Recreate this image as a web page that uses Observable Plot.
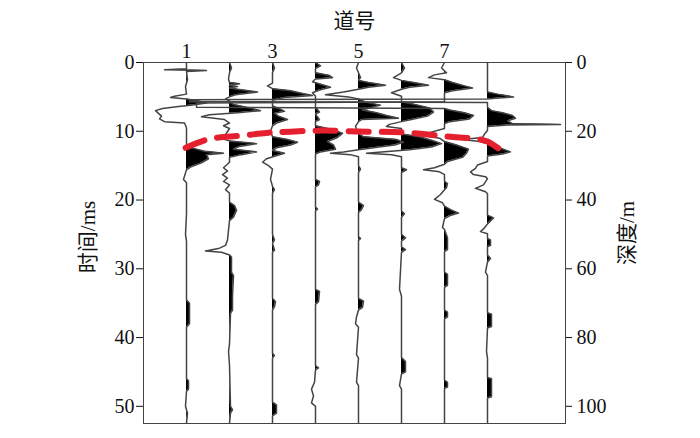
<!DOCTYPE html>
<html><head><meta charset="utf-8">
<script src="https://cdn.jsdelivr.net/npm/d3@7"></script>
<script src="https://cdn.jsdelivr.net/npm/@observablehq/plot@0.6"></script>
<style>body{margin:0;background:#fff}</style>
</head><body><div id="chart"></div>
<script>
// ---- data ----
const traceNumbers = [1, 2, 3, 4, 5, 6, 7, 8];
const topTicks = [1, 3, 5, 7];
const timeTicks = [0, 10, 20, 30, 40, 50];      // ms
const depthTicks = [0, 20, 40, 60, 80, 100];    // m  (depth = 2 x time)
const timeMax = 52.5;
const gain = 43; // amplitude units per trace spacing

// [time ms, amplitude]
const trace1 = [[0,0],[0.9,0],[1.05,-22],[1.15,20],[1.3,0],[2.5,1],[3.5,-1],[4.6,0],[4.9,-12],[5.1,-16],[5.3,0],[5.6,12],[5.9,20],[6.2,4],[6.4,-8],[6.7,-24],[7.0,-31],[7.4,-28],[7.8,-25],[8.2,-27],[8.6,-22],[8.8,-2],[9.5,0],[12.2,0],[12.6,10],[12.9,18],[13.2,37],[13.4,20],[14.0,22],[14.6,15],[15.2,4],[15.6,0],[17,-3],[17.5,0],[22,0],[25,-1],[26,0],[34.5,0],[35,3],[38,3],[38.5,0],[46,0],[46.3,2],[47.5,2],[47.8,0],[50,-1],[51,1],[52.5,0]];
const trace2 = [[0,0],[0.8,2],[1.5,0],[2.4,-1],[2.9,0],[3.1,10],[3.3,0],[3.5,8],[3.7,0],[3.9,8],[4.3,28],[4.7,6],[5.0,0],[5.3,-4],[5.6,0],[6.1,4],[6.6,20],[7.0,31],[7.3,8],[7.6,-20],[7.9,-28],[8.3,-5],[8.8,0],[9.2,-6],[9.6,0],[10.5,-4],[11.0,-10],[11.4,0],[11.8,27],[12.2,10],[12.6,4],[13.0,27],[13.4,12],[13.8,0],[14.5,0],[15.3,-6],[15.8,-2],[16.3,-7],[16.8,-2],[17.3,-6],[17.8,0],[18.5,-4],[19,0],[20.3,0],[20.8,5],[21.5,7],[22.5,4],[23,0],[25.8,-2],[26.6,-4],[27.0,-10],[27.4,-24],[27.6,-8],[28.0,0],[28.3,2],[30.5,2],[31,4],[34,3],[36,3],[36.5,1],[41,0],[42,-1],[44,0],[50,1],[50.5,3],[51,1],[52.5,0]];
const trace3 = [[0,0],[0.8,2],[1.5,0],[3.0,0],[3.4,-5],[3.8,0],[4.1,18],[4.5,30],[4.8,40],[5.1,12],[5.5,0],[6.3,0],[6.8,8],[7.1,12],[7.4,2],[7.8,6],[8.3,15],[8.8,4],[9.2,0],[10,-2],[10.8,0],[11.2,15],[11.6,25],[12.0,18],[12.4,4],[12.8,0],[13.2,12],[13.6,3],[14.0,-6],[14.5,-10],[15.0,-4],[15.5,0],[17,-2],[18,0],[18.5,2],[19,0],[25,0],[25.8,2],[26.3,0],[27.3,2],[27.6,0],[34.3,0],[34.8,3],[35.5,2],[36,0],[42.3,0],[42.6,2],[43,0],[49.4,0],[49.8,4],[51,4],[51.4,0],[52.5,0]];
const trace4 = [[0,0],[0.5,5],[0.9,0],[1.5,0],[1.9,14],[2.2,17],[2.4,0],[2.8,-3],[3.2,6],[3.6,15],[4.0,4],[4.4,-3],[4.9,0],[6.5,0],[7.2,4],[7.5,0],[8.3,4],[8.6,0],[9.2,0],[9.7,15],[10.3,27],[10.9,22],[11.5,12],[12.0,18],[12.6,20],[13.0,5],[13.3,0],[17,0],[17.3,4],[17.8,3],[18.1,0],[21,0],[21.3,2],[21.6,0],[33,0],[33.3,4],[34.8,3],[35.2,0],[44.1,0],[44.4,3],[44.7,0],[46.5,-1],[47.5,-4],[48.5,-2],[49.5,-4],[50,0],[52.5,0]];
const trace5 = [[0,0],[0.8,-2],[1.5,0],[2.2,2],[2.6,0],[2.9,10],[3.3,27],[3.6,10],[3.9,0],[4.3,-15],[4.7,-33],[5.0,-10],[5.3,0],[5.8,8],[6.2,22],[6.6,12],[6.9,4],[7.3,18],[7.7,28],[8.1,40],[8.3,3],[8.6,0],[9.3,-3],[10.3,0],[10.8,5],[11.2,38],[11.6,45],[12.0,36],[12.4,15],[12.7,0],[13.0,-15],[13.2,-28],[13.4,-8],[13.7,0],[15,0],[15.5,2],[16,0],[20.3,0],[20.8,5],[21.4,3],[21.8,0],[25.3,0],[25.6,2],[25.9,0],[34.3,0],[34.7,5],[35.6,4],[36,0],[37,-2],[38,-3],[38.5,0],[42.5,-2],[43,0],[46.5,-2],[47,0],[52.5,0]];
const trace6 = [[0,0],[0.8,3],[1.5,0],[2.2,-8],[2.6,0],[2.9,12],[3.3,27],[3.6,8],[3.9,0],[4.4,-10],[4.9,0],[5.7,0],[6.0,10],[6.6,28],[7.2,32],[7.8,26],[8.3,10],[8.6,0],[9.0,-12],[9.3,-15],[9.6,0],[10.4,0],[10.8,18],[11.3,30],[11.8,40],[12.3,30],[12.7,8],[13.0,-20],[13.2,-35],[13.4,-10],[13.7,0],[15.3,0],[15.6,5],[16,0],[21.6,0],[22,3],[22.5,0],[25,0],[25.5,4],[26,0],[26.8,0],[27.2,4],[27.6,0],[33,-2],[34,0],[42.9,0],[43.5,4],[45,4],[45.3,0],[47,-2],[47.5,0],[52.5,0]];
const trace7 = [[0,0],[0.8,-3],[1.5,2],[1.8,-10],[2.2,-16],[2.5,0],[2.9,8],[3.4,20],[3.7,28],[4.1,8],[4.4,0],[5.7,0],[5.9,-248],[6.5,-248],[6.7,0],[6.9,5],[7.3,20],[7.7,29],[8.2,25],[8.6,5],[8.9,0],[9.6,0],[10.2,-15],[10.6,-21],[11.0,-5],[11.5,0],[12.0,12],[12.6,24],[13.2,22],[13.8,18],[14.4,3],[14.8,0],[15.3,-10],[15.6,-21],[15.9,-5],[16.3,0],[17.3,0],[17.6,3],[18.2,2],[18.5,0],[19.2,-4],[19.9,-10],[20.4,-2],[20.9,0],[21.4,6],[21.9,14],[22.3,5],[22.7,0],[24,-2],[24.3,0],[25.5,3],[27.2,3],[27.5,0],[30.5,0],[30.8,3],[32.4,3],[32.7,0],[36,0],[36.3,3],[37,3],[37.3,0],[46.2,0],[46.5,3],[47.2,3],[47.4,0],[52.5,0]];
const trace8 = [[0,0],[4.3,0],[4.6,10],[5.0,26],[5.2,8],[5.3,0],[5.4,-298],[5.7,-298],[5.8,0],[6.5,0],[7.0,4],[7.3,15],[7.7,25],[8.1,28],[8.5,20],[8.9,25],[9.0,73],[9.1,20],[9.3,0],[9.9,0],[10.4,-3],[10.9,-5],[11.2,-25],[11.5,-8],[11.8,0],[12.3,10],[13.0,23],[13.3,15],[13.6,0],[14.4,0],[14.9,-10],[15.4,-12],[15.9,-17],[16.3,-14],[16.6,-2],[16.9,0],[17.8,-4],[18.3,-12],[18.8,-2],[19.1,0],[22.2,0],[22.6,6],[23.2,2],[23.5,0],[24.2,-4],[24.6,-7],[24.9,0],[25.6,0],[25.8,3],[26.6,3],[26.8,0],[28,0],[28.5,3],[29,0],[30.5,-2],[31,0],[36.4,0],[36.6,4],[38.4,4],[38.6,0],[42,-1],[43,0],[45.8,0],[46,4],[48.6,4],[48.8,0],[52.5,0]];

// picked horizon (red dashed): trace position and time
const horizonTrace = [0.98, 1.49, 1.95, 2.49, 2.91, 3.42, 4.19, 5.21, 6.14, 7.14, 7.84, 8.14, 8.30];
const horizonTime  = [12.4, 11.2, 10.8, 10.5, 10.2, 10.06, 9.9, 10.06, 10.2, 10.8, 11.2, 12.0, 12.7];

// ---- build ----
const traces = [trace1, trace2, trace3, trace4, trace5, trace6, trace7, trace8];
const lineData = [], fillData = [];
traces.forEach((tr, i) => {
  const k = traceNumbers[i];
  tr.forEach(([t, a], j) => {
    if (j > 0) {
      const [t0, a0] = tr[j - 1];
      if ((a0 > 0 && a < 0) || (a0 < 0 && a > 0)) {
        const tc = t0 + (t - t0) * (a0 / (a0 - a));
        fillData.push({trace: k, t: tc, xp: k});
      }
    }
    lineData.push({trace: k, t, x: k + a / gain});
    fillData.push({trace: k, t, xp: k + Math.max(a, 0) / gain});
  });
});
const horizon = horizonTrace.map((x, i) => ({x, t: horizonTime[i]}));

const serif = "'Liberation Serif','Times New Roman',serif";
const cjk = "'Liberation Serif','Noto Sans CJK SC',serif";

const chart = Plot.plot({
  width: 700, height: 438,
  marginTop: 62, marginBottom: 15, marginLeft: 143, marginRight: 135,
  style: {fontFamily: serif, fontSize: "20px", color: "#111", background: "#fff"},
  x: {domain: [0, 9.814]},
  y: {domain: [0, timeMax], reverse: true},
  marks: [
    Plot.areaX(fillData, {y: "t", x1: "trace", x2: "xp", z: "trace", fill: "#000", clip: true}),
    Plot.line(lineData, {x: "x", y: "t", z: "trace", stroke: "#444", strokeWidth: 1.5, clip: true}),
    Plot.line(horizon, {x: "x", y: "t", stroke: "#e5202e", strokeWidth: 6, strokeDasharray: "20,13", curve: "natural"}),
    Plot.frame({stroke: "#444", strokeWidth: 1}),
    Plot.axisX(topTicks, {anchor: "top", tickSize: 0, tickPadding: 5, label: null, fontSize: 20}),
    Plot.axisY(timeTicks, {anchor: "left", tickSize: 7, tickPadding: 2, label: null, fontSize: 20}),
    Plot.axisY(depthTicks.map(d => d / 2), {anchor: "right", tickSize: 6, tickPadding: 5, label: null, fontSize: 20, tickFormat: d => String(Math.round(d * 2))}),
    Plot.text(["道号"], {frameAnchor: "top", dy: -41, fontSize: 21, fontFamily: cjk, textAnchor: "middle", lineAnchor: "middle"}),
    Plot.text(["时间/ms"], {frameAnchor: "left", dx: -55, dy: -6, rotate: -90, fontSize: 21, fontFamily: cjk, textAnchor: "middle", lineAnchor: "middle"}),
    Plot.text(["深度/m"], {frameAnchor: "right", dx: 62, dy: -10, rotate: -90, fontSize: 21, fontFamily: cjk, textAnchor: "middle", lineAnchor: "middle"})
  ]
});
document.getElementById("chart").appendChild(chart);
</script>
</body></html>
